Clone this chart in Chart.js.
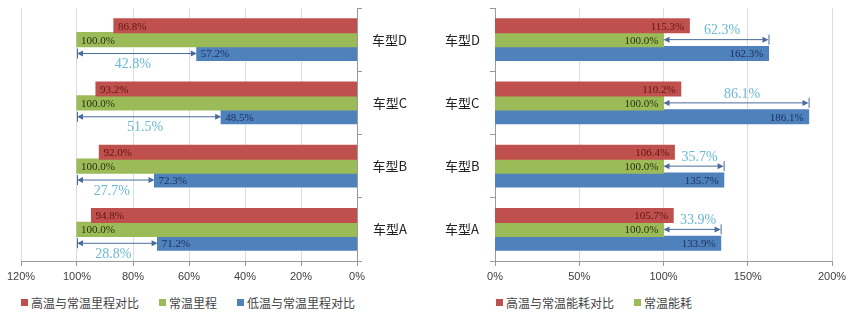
<!DOCTYPE html>
<html>
<head>
<meta charset="utf-8">
<script src="https://cdn.jsdelivr.net/npm/chart.js@4"></script>
<style>
  body { margin:0; background:#fff; width:852px; height:323px; position:relative; overflow:hidden; font-family:"Noto Sans CJK SC", sans-serif; }
  .box { position:absolute; top:0; height:290px; }
  #leftBox { left:0; width:420px; }
  #rightBox { left:420px; width:432px; }
  .legend { position:absolute; top:294px; display:flex; font-size:12px; color:#444; white-space:nowrap; }
  .legend span { display:inline-flex; align-items:center; margin-right:20px; }
  .legend i { display:inline-block; width:7px; height:7px; margin-right:3px; }
</style>
</head>
<body>
<div class="box" id="leftBox"><canvas id="leftChart"></canvas></div>
<div class="box" id="rightBox"><canvas id="rightChart"></canvas></div>
<div class="legend" style="left:21px"><span><i style="background:#C0504D"></i>高温与常温里程对比</span><span><i style="background:#9BBB59"></i>常温里程</span><span><i style="background:#4F81BD"></i>低温与常温里程对比</span></div>
<div class="legend" style="left:496px"><span><i style="background:#C0504D"></i>高温与常温能耗对比</span><span><i style="background:#9BBB59"></i>常温能耗</span></div>
<script>
const categories = ["车型D", "车型C", "车型B", "车型A"];

// 里程 (left chart)
const mileHigh = [86.8, 93.2, 92.0, 94.8];
const mileNormal = [100.0, 100.0, 100.0, 100.0];
const mileLow = [57.2, 48.5, 72.3, 71.2];
const mileGap = [42.8, 51.5, 27.7, 28.8];
const mileTicks = [0, 20, 40, 60, 80, 100, 120];

// 能耗 (right chart)
const energyHigh = [115.3, 110.2, 106.4, 105.7];
const energyNormal = [100.0, 100.0, 100.0, 100.0];
const energyLow = [162.3, 186.1, 135.7, 133.9];
const energyGap = [62.3, 86.1, 35.7, 33.9];
const energyTicks = [0, 50, 100, 150, 200];

const RED = "#C0504D", GREEN = "#9BBB59", BLUE = "#4F81BD";
const labelColors = ["#5e1614", "#26320c", "#1b2f5c"];
const gapColor = "#6ab9d8", arrowColor = "#4a6b9c";

function drawArrow(ctx, x1, x2, y, capAt) {
  const dir = x2 > x1 ? 1 : -1;
  ctx.save();
  ctx.strokeStyle = arrowColor; ctx.fillStyle = arrowColor; ctx.lineWidth = 1;
  ctx.beginPath(); ctx.moveTo(x1 + dir*4, y); ctx.lineTo(x2 - dir*4, y); ctx.stroke();
  [[x1, -dir], [x2, dir]].forEach(([x, d]) => {
    ctx.beginPath(); ctx.moveTo(x, y); ctx.lineTo(x - d*6, y - 3); ctx.lineTo(x - d*6, y + 3); ctx.closePath(); ctx.fill();
  });
  ctx.beginPath(); ctx.moveTo(capAt + 0.5, y - 5); ctx.lineTo(capAt + 0.5, y + 5); ctx.stroke();
  ctx.restore();
}

function makePlugin(side, lowVals, gapVals) {
  return {
    id: "labels_" + side,
    afterDatasetsDraw(chart) {
      const ctx = chart.ctx, xs = chart.scales.x;
      ctx.save();
      ctx.font = "11px 'Liberation Serif', serif";
      ctx.textBaseline = "middle";
      chart.data.datasets.forEach((ds, di) => {
        chart.getDatasetMeta(di).data.forEach((el, i) => {
          ctx.fillStyle = labelColors[di];
          const txt = ds.data[i].toFixed(1) + "%";
          if (side === "left") { ctx.textAlign = "left"; ctx.fillText(txt, el.x + 4, el.y + 1); }
          else { ctx.textAlign = "right"; ctx.fillText(txt, el.x - 5, el.y + 1); }
        });
      });
      const x100 = xs.getPixelForValue(100);
      ctx.font = "14px 'Liberation Serif', serif";
      ctx.textAlign = "center";
      categories.forEach((c, i) => {
        const xLow = xs.getPixelForValue(lowVals[i]);
        const txt = gapVals[i].toFixed(1) + "%";
        if (side === "left") {
          const y = chart.getDatasetMeta(2).data[i].y;
          drawArrow(ctx, x100, xLow, y, x100);
          ctx.fillStyle = gapColor;
          ctx.fillText(txt, (x100 + xLow) / 2 - 4, y + 11);
        } else {
          const y = chart.getDatasetMeta(1).data[i].y;
          drawArrow(ctx, x100, xLow, y, xLow);
          ctx.fillStyle = gapColor;
          ctx.fillText(txt, (x100 + xLow) / 2 + 6, y - 9);
        }
      });
      ctx.restore();
    }
  };
}

function buildChart(id, side, high, normal, low, gap, ticks, max) {
  const tickFont = { family: "'Liberation Sans', sans-serif", size: 11 };
  return new Chart(document.getElementById(id), {
    type: "bar",
    data: {
      labels: categories,
      datasets: [
        { data: high, backgroundColor: RED },
        { data: normal, backgroundColor: GREEN },
        { data: low, backgroundColor: BLUE }
      ]
    },
    options: {
      indexAxis: "y",
      responsive: true,
      maintainAspectRatio: false,
      animation: false,
      datasets: { bar: { categoryPercentage: 0.66, barPercentage: 1.0, borderWidth: 0, inflateAmount: 0.6 } },
      layout: { padding: side === "left" ? { left: 21, right: 13, top: 8, bottom: 5 } : { left: 25, right: 20, top: 8, bottom: 5 } },
      plugins: { legend: { display: false }, tooltip: { enabled: false } },
      scales: {
        x: {
          reverse: side === "left",
          min: 0, max: max,
          afterBuildTicks: (s) => { s.ticks = ticks.map(v => ({ value: v })); },
          afterFit: (s) => { s.height = 24; },
          grid: { color: "#dcdcdc", tickColor: "#9a9a9a", tickLength: 5 },
          border: { color: "#9a9a9a" },
          ticks: { font: tickFont, color: "#404040", padding: 4, callback: (v) => v + "%" }
        },
        y: {
          position: side === "left" ? "right" : "left",
          afterFit: (s) => { s.width = 50; },
          grid: { offset: true, drawOnChartArea: false, tickColor: "#9a9a9a", tickLength: 5 },
          border: { color: "#9a9a9a" },
          ticks: { font: { family: "'Noto Sans CJK SC', sans-serif", size: 13 }, color: "#222", padding: 0, crossAlign: "far" }
        }
      }
    },
    plugins: [makePlugin(side, low, gap)]
  });
}

buildChart("leftChart", "left", mileHigh, mileNormal, mileLow, mileGap, mileTicks, 120);
buildChart("rightChart", "right", energyHigh, energyNormal, energyLow, energyGap, energyTicks, 200);
</script>
</body>
</html>
